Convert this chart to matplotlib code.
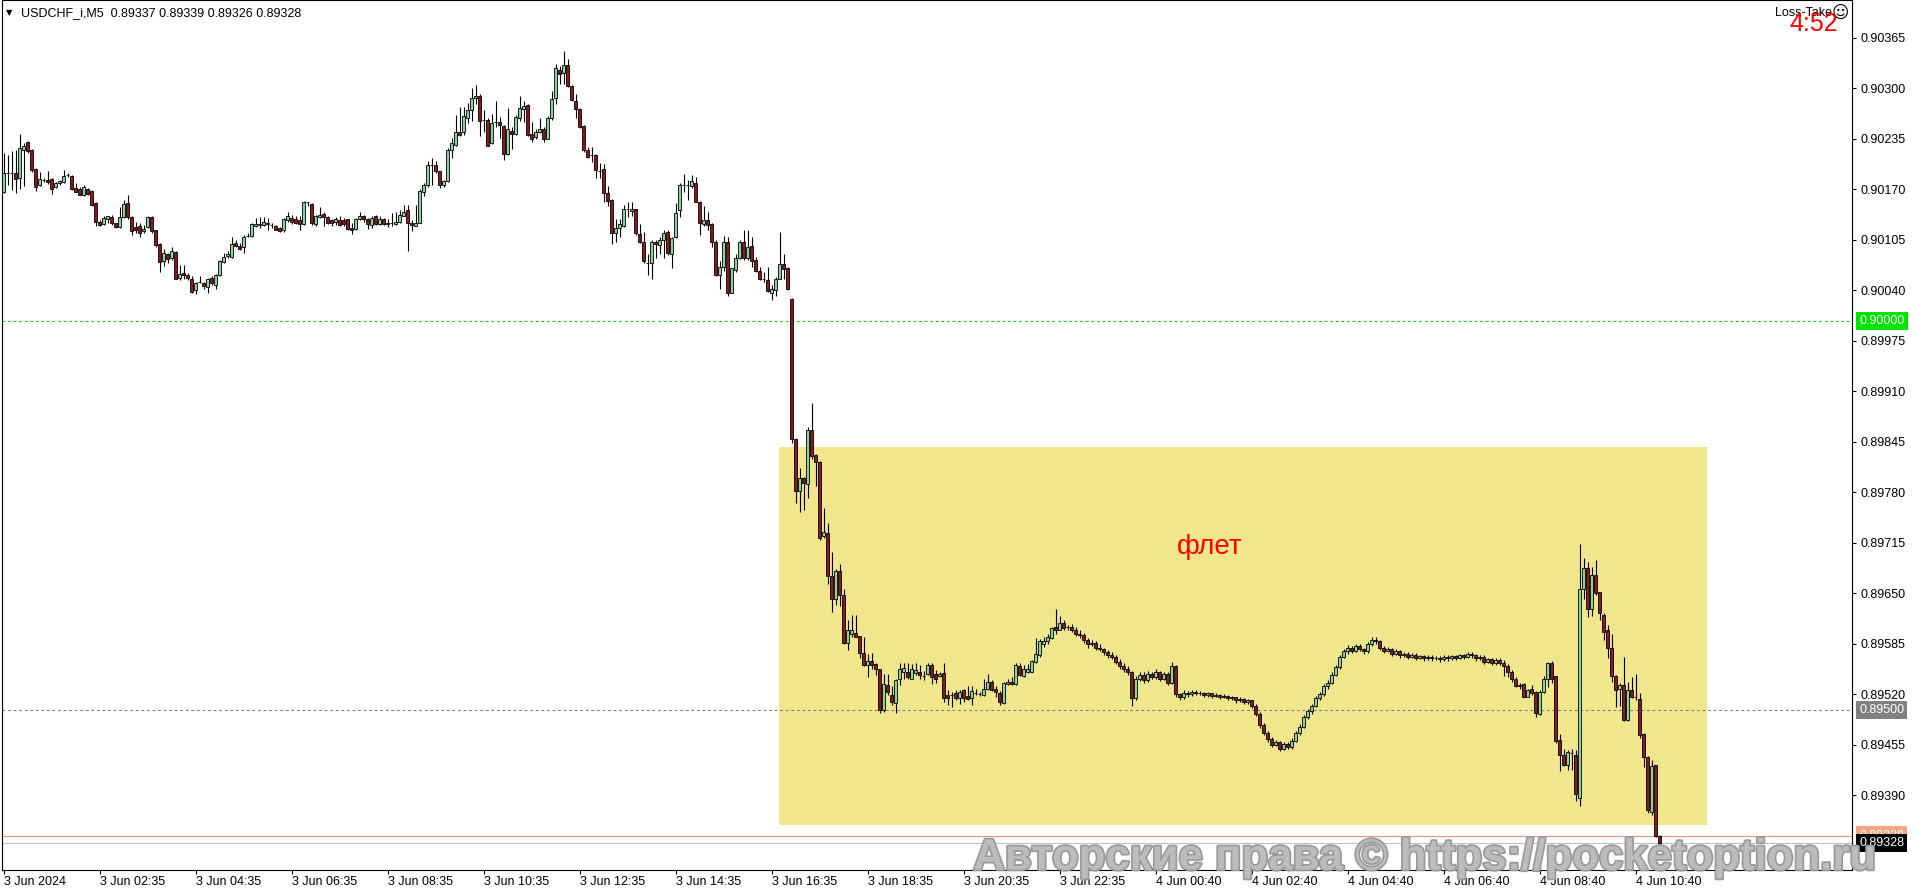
import matplotlib
matplotlib.use("Agg")
import matplotlib.pyplot as plt
import matplotlib.patheffects as pe
from matplotlib.patches import Rectangle
from matplotlib.transforms import blended_transform_factory
import numpy as np

plt.rcParams['font.family'] = ['Liberation Sans', 'DejaVu Sans']

# USDCHF M5 candles, prices in points (1 point = 0.00001)
open_pts = [
    90167, 90191, 90191, 90191, 90184, 90220, 90231, 90220, 90196, 90175,
    90182, 90182, 90183, 90173, 90178, 90179, 90188, 90187, 90171, 90170,
    90163, 90170, 90168, 90152, 90128, 90125, 90132, 90134, 90126, 90121,
    90134, 90152, 90134, 90121, 90123, 90116, 90121, 90134, 90117, 90100,
    90077, 90087, 90081, 90089, 90056, 90062, 90060, 90054, 90040, 90050,
    90049, 90044, 90056, 90047, 90059, 90076, 90084, 90083, 90101, 90097,
    90095, 90110, 90110, 90122, 90124, 90124, 90126, 90124, 90122, 90120,
    90117, 90130, 90133, 90131, 90130, 90125, 90153, 90151, 90125, 90134,
    90138, 90134, 90130, 90128, 90130, 90130, 90131, 90120, 90119, 90131,
    90135, 90131, 90124, 90135, 90125, 90131, 90127, 90126, 90125, 90128,
    90136, 90143, 90127, 90123, 90127, 90167, 90176, 90201, 90201, 90193,
    90176, 90180, 90220, 90227, 90244, 90244, 90261, 90272, 90288, 90290,
    90259, 90259, 90229, 90256, 90256, 90251, 90215, 90245, 90241, 90262,
    90273, 90278, 90241, 90237, 90244, 90248, 90235, 90261, 90287, 90324,
    90319, 90330, 90303, 90283, 90273, 90251, 90221, 90214, 90214, 90194,
    90196, 90165, 90156, 90114, 90120, 90123, 90144, 90142, 90144, 90112,
    90102, 90075, 90075, 90102, 90098, 90104, 90115, 90087, 90108, 90143,
    90175, 90175, 90174, 90178, 90154, 90125, 90130, 90125, 90102, 90060,
    90070, 90102, 90037, 90066, 90081, 90102, 90081, 90097, 90079, 90065,
    90054, 90053, 90037, 90040, 90055, 90074, 90068, 90029, 89849, 89782,
    89798, 89791, 89860, 89828, 89819, 89723, 89728, 89672, 89642, 89678,
    89648, 89586, 89597, 89599, 89595, 89573, 89558, 89563, 89559, 89552,
    89499, 89532, 89519, 89509, 89539, 89548, 89548, 89540, 89547, 89549,
    89543, 89546, 89557, 89546, 89543, 89547, 89519, 89519, 89521, 89515,
    89525, 89518, 89515, 89522, 89520, 89519, 89527, 89536, 89527, 89522,
    89509, 89533, 89536, 89533, 89556, 89543, 89549, 89549, 89562, 89570,
    89585, 89588, 89592, 89607, 89603, 89611, 89606, 89606, 89603, 89598,
    89596, 89590, 89584, 89586, 89580, 89578, 89574, 89570, 89568, 89562,
    89556, 89552, 89548, 89515, 89540, 89545, 89538, 89546, 89542, 89548,
    89540, 89546, 89535, 89556, 89520, 89516, 89522, 89520, 89523, 89521,
    89522, 89519, 89521, 89518, 89519, 89517, 89518, 89515, 89516, 89512,
    89514, 89510, 89512, 89505, 89495, 89480, 89470, 89462, 89455, 89458,
    89450, 89456, 89452, 89460, 89470, 89478, 89490, 89498, 89505, 89515,
    89520, 89530, 89535, 89545, 89555, 89568, 89575, 89580, 89576, 89582,
    89578, 89575, 89584, 89590, 89588, 89580, 89576, 89578, 89572, 89575,
    89570, 89572, 89568, 89571, 89567, 89569, 89566, 89568, 89566, 89567,
    89565, 89568, 89566, 89569, 89567, 89570, 89568, 89572, 89570, 89566,
    89568, 89562, 89565, 89560, 89564, 89560, 89556, 89549, 89540, 89532,
    89533, 89517, 89527, 89523, 89495, 89523, 89540, 89560, 89543, 89461,
    89442, 89429, 89444, 89442, 89386, 89655, 89682, 89629, 89673, 89651,
    89622, 89602, 89579, 89544, 89527, 89532, 89487, 89526, 89516, 89514,
    89469, 89439, 89368, 89429, 89337,
]

high_pts = [
    90216, 90214, 90219, 90221, 90241, 90229, 90232, 90222, 90197, 90192,
    90185, 90194, 90184, 90179, 90182, 90195, 90191, 90188, 90178, 90173,
    90175, 90171, 90169, 90153, 90130, 90135, 90136, 90137, 90127, 90147,
    90156, 90162, 90135, 90128, 90126, 90124, 90135, 90135, 90118, 90101,
    90093, 90088, 90096, 90090, 90073, 90073, 90062, 90058, 90051, 90058,
    90050, 90056, 90058, 90061, 90079, 90088, 90090, 90109, 90104, 90101,
    90111, 90113, 90126, 90133, 90134, 90134, 90133, 90126, 90124, 90121,
    90133, 90140, 90137, 90135, 90135, 90155, 90154, 90152, 90137, 90147,
    90140, 90135, 90131, 90134, 90135, 90133, 90132, 90126, 90133, 90141,
    90137, 90133, 90135, 90137, 90136, 90133, 90131, 90139, 90141, 90143,
    90149, 90150, 90130, 90150, 90170, 90178, 90206, 90210, 90206, 90194,
    90182, 90223, 90236, 90266, 90276, 90276, 90281, 90300, 90304, 90292,
    90272, 90261, 90267, 90283, 90263, 90253, 90275, 90250, 90265, 90290,
    90283, 90279, 90257, 90248, 90261, 90250, 90264, 90296, 90331, 90329,
    90348, 90337, 90304, 90293, 90274, 90253, 90224, 90224, 90215, 90204,
    90203, 90174, 90158, 90131, 90132, 90150, 90153, 90154, 90145, 90125,
    90115, 90087, 90105, 90105, 90109, 90117, 90117, 90109, 90152, 90178,
    90190, 90182, 90188, 90186, 90155, 90148, 90141, 90126, 90105, 90077,
    90110, 90109, 90069, 90087, 90105, 90117, 90118, 90108, 90083, 90070,
    90063, 90070, 90047, 90057, 90115, 90087, 90070, 90030, 89850, 89811,
    89800, 89864, 89895, 89829, 89820, 89759, 89740, 89703, 89681, 89688,
    89656, 89615, 89622, 89622, 89595, 89594, 89572, 89573, 89560, 89552,
    89546, 89546, 89530, 89540, 89560, 89560, 89560, 89559, 89560, 89557,
    89550, 89560, 89560, 89551, 89548, 89560, 89525, 89523, 89525, 89525,
    89527, 89530, 89530, 89527, 89523, 89539, 89546, 89538, 89530, 89524,
    89536, 89540, 89542, 89560, 89560, 89557, 89559, 89564, 89592, 89591,
    89593, 89597, 89607, 89630, 89621, 89615, 89609, 89610, 89606, 89602,
    89599, 89592, 89590, 89588, 89584, 89580, 89577, 89574, 89570, 89565,
    89560, 89556, 89550, 89543, 89549, 89548, 89550, 89549, 89552, 89550,
    89549, 89548, 89562, 89558, 89522, 89525, 89524, 89526, 89525, 89524,
    89523, 89523, 89522, 89521, 89520, 89520, 89519, 89518, 89517, 89516,
    89515, 89514, 89513, 89507, 89497, 89483, 89473, 89465, 89461, 89460,
    89459, 89458, 89463, 89473, 89481, 89493, 89501, 89508, 89518, 89523,
    89533, 89538, 89548, 89558, 89571, 89578, 89583, 89582, 89585, 89584,
    89580, 89587, 89593, 89593, 89590, 89582, 89581, 89580, 89578, 89577,
    89574, 89574, 89573, 89573, 89571, 89571, 89570, 89570, 89569, 89569,
    89570, 89570, 89571, 89571, 89572, 89572, 89574, 89574, 89572, 89570,
    89570, 89567, 89567, 89566, 89566, 89564, 89559, 89551, 89542, 89534,
    89535, 89527, 89532, 89524, 89525, 89544, 89562, 89563, 89544, 89469,
    89450, 89448, 89449, 89448, 89713, 89695, 89690, 89684, 89693, 89652,
    89625, 89609, 89598, 89545, 89534, 89568, 89536, 89542, 89546, 89521,
    89470, 89440, 89435, 89429, 89339,
]

low_pts = [
    90165, 90176, 90169, 90165, 90170, 90174, 90216, 90192, 90168, 90174,
    90179, 90177, 90164, 90172, 90175, 90178, 90186, 90169, 90166, 90162,
    90161, 90163, 90148, 90122, 90123, 90124, 90126, 90124, 90120, 90120,
    90133, 90131, 90111, 90113, 90108, 90113, 90120, 90114, 90096, 90063,
    90071, 90075, 90079, 90054, 90053, 90054, 90053, 90037, 90035, 90049,
    90041, 90037, 90047, 90041, 90058, 90075, 90081, 90082, 90095, 90092,
    90088, 90108, 90109, 90121, 90120, 90123, 90118, 90120, 90117, 90115,
    90115, 90128, 90125, 90125, 90118, 90124, 90148, 90124, 90123, 90133,
    90122, 90125, 90123, 90124, 90122, 90123, 90118, 90112, 90118, 90130,
    90128, 90119, 90120, 90124, 90124, 90124, 90121, 90122, 90124, 90126,
    90135, 90090, 90116, 90122, 90126, 90161, 90173, 90176, 90191, 90171,
    90173, 90179, 90210, 90225, 90239, 90240, 90255, 90258, 90280, 90238,
    90243, 90225, 90228, 90250, 90236, 90207, 90214, 90222, 90240, 90258,
    90256, 90239, 90231, 90234, 90242, 90231, 90234, 90259, 90280, 90305,
    90306, 90302, 90283, 90262, 90249, 90218, 90210, 90205, 90184, 90184,
    90153, 90148, 90099, 90102, 90109, 90121, 90134, 90135, 90111, 90101,
    90075, 90060, 90054, 90081, 90087, 90081, 90085, 90068, 90107, 90134,
    90166, 90156, 90172, 90153, 90111, 90122, 90117, 90096, 90058, 90041,
    90065, 90033, 90036, 90064, 90080, 90079, 90079, 90070, 90064, 90053,
    90050, 90038, 90027, 90032, 90054, 90055, 90040, 89843, 89766, 89755,
    89757, 89773, 89823, 89788, 89718, 89721, 89662, 89626, 89635, 89633,
    89585, 89577, 89594, 89593, 89566, 89556, 89542, 89553, 89545, 89496,
    89497, 89519, 89506, 89496, 89532, 89540, 89539, 89539, 89545, 89539,
    89538, 89545, 89533, 89534, 89542, 89510, 89506, 89504, 89512, 89508,
    89510, 89512, 89506, 89519, 89518, 89518, 89526, 89524, 89517, 89506,
    89508, 89532, 89532, 89532, 89543, 89542, 89547, 89548, 89560, 89568,
    89581, 89585, 89591, 89598, 89602, 89603, 89602, 89600, 89595, 89592,
    89586, 89580, 89582, 89577, 89575, 89570, 89566, 89565, 89559, 89553,
    89549, 89545, 89505, 89512, 89537, 89535, 89536, 89539, 89540, 89537,
    89538, 89532, 89533, 89517, 89513, 89514, 89517, 89518, 89519, 89519,
    89516, 89517, 89515, 89516, 89514, 89515, 89512, 89513, 89509, 89510,
    89507, 89508, 89502, 89492, 89477, 89467, 89459, 89452, 89453, 89447,
    89448, 89449, 89450, 89458, 89468, 89476, 89488, 89495, 89503, 89512,
    89518, 89527, 89533, 89543, 89553, 89566, 89572, 89573, 89574, 89575,
    89572, 89573, 89582, 89585, 89577, 89573, 89574, 89569, 89570, 89567,
    89568, 89565, 89566, 89564, 89565, 89563, 89564, 89563, 89564, 89562,
    89563, 89563, 89564, 89564, 89565, 89565, 89566, 89567, 89563, 89564,
    89559, 89560, 89557, 89558, 89557, 89544, 89542, 89536, 89529, 89527,
    89516, 89516, 89519, 89491, 89493, 89521, 89529, 89534, 89457, 89421,
    89427, 89422, 89423, 89383, 89376, 89643, 89619, 89620, 89648, 89616,
    89590, 89566, 89536, 89504, 89505, 89486, 89486, 89515, 89513, 89464,
    89426, 89367, 89364, 89336, 89326,
]

close_pts = [
    90191, 90191, 90191, 90183, 90223, 90226, 90219, 90195, 90173, 90183,
    90182, 90179, 90170, 90178, 90180, 90187, 90188, 90170, 90167, 90163,
    90173, 90164, 90149, 90128, 90124, 90133, 90135, 90126, 90121, 90134,
    90151, 90134, 90116, 90117, 90113, 90119, 90134, 90116, 90098, 90076,
    90088, 90080, 90091, 90055, 90061, 90060, 90056, 90038, 90049, 90050,
    90045, 90054, 90049, 90060, 90078, 90083, 90087, 90100, 90097, 90093,
    90109, 90110, 90125, 90125, 90125, 90128, 90125, 90124, 90118, 90116,
    90131, 90135, 90128, 90126, 90125, 90153, 90153, 90126, 90136, 90137,
    90134, 90127, 90127, 90131, 90124, 90125, 90119, 90118, 90131, 90136,
    90131, 90125, 90133, 90125, 90131, 90125, 90125, 90126, 90128, 90137,
    90141, 90127, 90124, 90127, 90168, 90176, 90201, 90201, 90193, 90176,
    90180, 90221, 90229, 90244, 90240, 90264, 90272, 90288, 90290, 90258,
    90259, 90226, 90255, 90256, 90253, 90215, 90247, 90241, 90263, 90274,
    90277, 90240, 90235, 90244, 90248, 90235, 90262, 90286, 90326, 90318,
    90330, 90303, 90285, 90273, 90250, 90220, 90211, 90214, 90195, 90194,
    90165, 90155, 90114, 90120, 90125, 90144, 90144, 90145, 90113, 90102,
    90077, 90075, 90102, 90099, 90105, 90114, 90088, 90107, 90139, 90175,
    90175, 90175, 90180, 90154, 90126, 90130, 90124, 90102, 90060, 90070,
    90102, 90037, 90068, 90081, 90102, 90081, 90096, 90078, 90065, 90054,
    90054, 90039, 90041, 90055, 90074, 90067, 90041, 89849, 89782, 89798,
    89792, 89860, 89826, 89819, 89721, 89729, 89672, 89642, 89678, 89648,
    89586, 89602, 89603, 89594, 89573, 89558, 89563, 89558, 89553, 89500,
    89533, 89523, 89510, 89538, 89553, 89554, 89542, 89553, 89551, 89545,
    89543, 89557, 89542, 89540, 89546, 89515, 89515, 89519, 89515, 89523,
    89515, 89514, 89524, 89522, 89520, 89527, 89536, 89525, 89523, 89510,
    89534, 89536, 89533, 89557, 89545, 89552, 89552, 89563, 89572, 89588,
    89589, 89594, 89605, 89602, 89611, 89605, 89606, 89603, 89598, 89596,
    89590, 89584, 89586, 89580, 89578, 89574, 89570, 89568, 89562, 89556,
    89552, 89548, 89515, 89540, 89545, 89538, 89546, 89542, 89548, 89540,
    89546, 89535, 89556, 89520, 89516, 89522, 89520, 89523, 89521, 89522,
    89519, 89521, 89518, 89519, 89517, 89518, 89515, 89516, 89512, 89514,
    89510, 89512, 89505, 89495, 89480, 89470, 89462, 89455, 89458, 89450,
    89456, 89452, 89460, 89470, 89478, 89490, 89498, 89505, 89515, 89520,
    89530, 89535, 89545, 89555, 89568, 89575, 89580, 89576, 89582, 89578,
    89575, 89584, 89590, 89588, 89580, 89576, 89578, 89572, 89575, 89570,
    89572, 89568, 89571, 89567, 89569, 89566, 89568, 89566, 89567, 89565,
    89568, 89566, 89569, 89567, 89570, 89568, 89572, 89570, 89566, 89568,
    89562, 89565, 89560, 89564, 89560, 89556, 89549, 89540, 89530, 89530,
    89517, 89526, 89521, 89496, 89523, 89540, 89560, 89540, 89460, 89442,
    89429, 89445, 89444, 89392, 89656, 89682, 89630, 89673, 89650, 89625,
    89600, 89580, 89544, 89526, 89532, 89487, 89526, 89516, 89516, 89467,
    89439, 89371, 89427, 89337, 89328,
]

time_labels = [
    "3 Jun 2024", "3 Jun 02:35", "3 Jun 04:35", "3 Jun 06:35", "3 Jun 08:35",
    "3 Jun 10:35", "3 Jun 12:35", "3 Jun 14:35", "3 Jun 16:35", "3 Jun 18:35",
    "3 Jun 20:35", "3 Jun 22:35", "4 Jun 00:40", "4 Jun 02:40", "4 Jun 04:40",
    "4 Jun 06:40", "4 Jun 08:40", "4 Jun 10:40",
]
price_ticks = [0.89390, 0.89455, 0.89520, 0.89585, 0.89650, 0.89715, 0.89780,
               0.89845, 0.89910, 0.89975, 0.90040, 0.90105, 0.90170, 0.90235,
               0.90300, 0.90365]

level_green = 0.90000
level_grey = 0.89500
ask_price = 0.89338
bid_price = 0.89328
flat_box = (193.85, 425.85, 0.893516, 0.898382)   # x from, x to, price low, price high

o = np.array(open_pts) * 1e-5
h = np.array(high_pts) * 1e-5
l = np.array(low_pts) * 1e-5
c = np.array(close_pts) * 1e-5
x = np.arange(len(c))

W, H = 1916, 888
fig = plt.figure(figsize=(W / 100, H / 100), dpi=100)
fig.patch.set_facecolor('white')
ax = fig.add_axes([2 / W, 1 - 870 / H, 1850 / W, 870 / H])
ax.set_xlim(-0.4, 462.1)
ax.set_ylim(0.892937, 0.904135)

# flat zone
ax.add_patch(Rectangle((flat_box[0], flat_box[2]), flat_box[1] - flat_box[0],
                       flat_box[3] - flat_box[2], fc='#f0e68c', ec='none', zorder=1))
ax.text(301.6, 0.897095, 'флет', color='red', fontsize=20, ha='center', va='center', zorder=2)

# levels
ax.axhline(level_green, color='#19d219', lw=0.8, ls=(0, (2.5, 2.5)), zorder=2)
ax.axhline(level_grey, color='#808080', lw=0.8, ls=(0, (2.5, 2.5)), zorder=2)
ax.axhline(ask_price, color='#e9967a', lw=0.8, zorder=2)
ax.axhline(bid_price, color='#c0c0c0', lw=0.8, zorder=2)

# candles
up = c >= o
bottom = np.minimum(o, c)
height = np.abs(c - o)
ax.vlines(x, l, h, color='black', lw=0.8, zorder=3)
ax.bar(x[up], height[up], bottom=bottom[up], width=0.62, color='#8fd19e',
       edgecolor='black', lw=0.6, zorder=4)
ax.bar(x[~up], height[~up], bottom=bottom[~up], width=0.62, color='#8b1a1a',
       edgecolor='black', lw=0.6, zorder=4)

# axes look
for s in ax.spines.values():
    s.set_color('black')
    s.set_linewidth(0.8)
ax.set_xticks(np.arange(len(time_labels)) * 24)
ax.set_xticklabels(time_labels, ha='left', fontsize=9)
ax.tick_params(axis='x', direction='out', length=3, width=0.8, pad=1.5)
ax.yaxis.tick_right()
ax.set_yticks(price_ticks)
ax.set_yticklabels([f'{p:.5f}' for p in price_ticks], fontsize=9)
ax.tick_params(axis='y', direction='out', length=3, width=0.8, pad=3)

# price boxes on the right scale
tr = blended_transform_factory(ax.transAxes, ax.transData)
lx = (1859 - 2) / 1850
for price, bg, z in [(level_green, '#00e400', 6), (level_grey, '#808080', 6),
                     (ask_price, '#f4a582', 6), (bid_price, 'black', 7)]:
    ax.text(lx, price, f'{price:.5f}', transform=tr, ha='left', va='center',
            color='white', fontsize=9, clip_on=False, zorder=z,
            bbox=dict(boxstyle='square,pad=0.25', fc=bg, ec='none'))

# header texts
fig.text(6 / W, 1 - 13 / H, '▼', fontsize=6, ha='left', va='center', family='DejaVu Sans')
fig.text(21 / W, 1 - 13 / H, 'USDCHF_i,M5  0.89337 0.89339 0.89326 0.89328',
         fontsize=9, ha='left', va='center')
fig.text(1832 / W, 1 - 13 / H, 'Loss-Take', fontsize=9, ha='right', va='center')
fig.text(1840 / W, 1 - 13 / H, '☺', fontsize=12, ha='center', va='center',
         family='DejaVu Sans')
fig.text(1814 / W, 1 - 24 / H, '4:52', fontsize=18, color='red', ha='center', va='center')

# watermark
wm = fig.text(1424 / W, 1 - 858 / H, 'Авторские права © https://pocketoption.ru',
              fontsize=33, fontweight='bold', ha='center', va='center',
              family=['Liberation Sans Narrow', 'Liberation Sans', 'DejaVu Sans'],
              color='#bcbcbc', zorder=10,
              path_effects=[pe.withStroke(linewidth=2.5, foreground='#9a9a9a')])
fig.canvas.draw()
bb = wm.get_window_extent()
wm.set_fontsize(33 * 904 / bb.width)

fig.savefig('out.png', dpi=100, facecolor='white')
